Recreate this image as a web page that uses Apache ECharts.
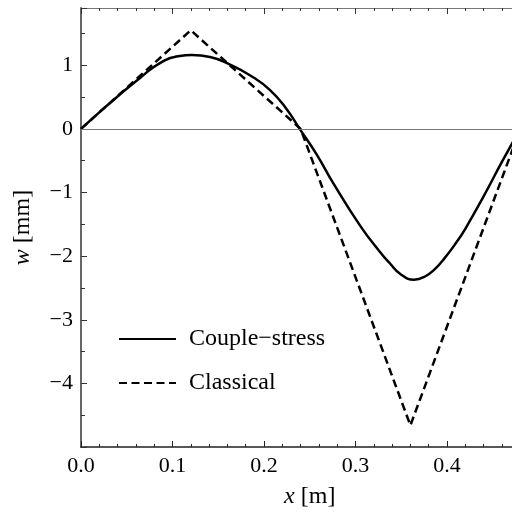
<!DOCTYPE html>
<html>
<head>
<meta charset="utf-8">
<script src="https://cdn.jsdelivr.net/npm/echarts@6/dist/echarts.min.js"></script>
<style>
  html, body { margin: 0; padding: 0; background: #fff; }
  #chart { width: 512px; height: 517px; }
</style>
</head>
<body>
<div id="chart"></div>
<script>
// deflection w(x)
var coupleX = [0, 0.02, 0.04, 0.0645, 0.0863, 0.108, 0.121, 0.141, 0.163, 0.185, 0.2066, 0.2248, 0.239,
               0.2575, 0.2755, 0.305, 0.327, 0.338, 0.349, 0.364, 0.376, 0.387, 0.398, 0.409, 0.42,
               0.44, 0.46, 0.48];
var coupleW = [0, 0.26, 0.51, 0.80, 1.035, 1.145, 1.16, 1.13, 1.01, 0.84, 0.61, 0.31, 0,
               -0.40, -0.85, -1.52, -1.94, -2.12, -2.28, -2.37, -2.32, -2.20, -2.02, -1.81, -1.57,
               -1.06, -0.52, 0];
var classicX = [0, 0.12, 0.24, 0.36, 0.48];
var classicW = [0, 1.55, 0, -4.66, 0];
var seriesNames = ['Couple\u2212stress', 'Classical'];

var chart = echarts.init(document.getElementById('chart'));
var font = 'Liberation Serif';

function pairs(xs, ys) {
    return xs.map(function (x, i) { return [x, ys[i]]; });
}

function minus(v) {
    return v < 0 ? '\u2212' + Math.abs(v) : String(v);
}

option = {
    animation: false,
    backgroundColor: '#fff',
    grid: {
        left: 81,
        top: 8,
        right: -26.5,
        bottom: 70,
        outerBoundsMode: 'none',
        containLabel: false
    },
    legend: {
        orient: 'vertical',
        left: 118,
        top: 327,
        padding: 0,
        itemWidth: 57,
        itemHeight: 2,
        itemGap: 20,
        data: seriesNames,
        textStyle: {
            fontFamily: font,
            fontSize: 24,
            color: '#000',
            lineHeight: 24,
            padding: [0, 0, 0, 8]
        }
    },
    xAxis: [
        {
            type: 'value',
            position: 'bottom',
            min: 0,
            max: 0.5,
            interval: 0.1,
            name: '{i|x} [m]',
            nameLocation: 'middle',
            nameGap: 38,
            nameTextStyle: {
                fontFamily: font,
                fontSize: 24,
                color: '#000',
                rich: { i: { fontFamily: font, fontSize: 24, fontStyle: 'italic' } }
            },
            axisLine: { onZero: false, lineStyle: { color: '#222', width: 1.5 } },
            axisTick: { inside: true, length: 6, lineStyle: { color: '#222' } },
            minorTick: { show: true, splitNumber: 5, length: 3, lineStyle: { color: '#222' } },
            axisLabel: {
                fontFamily: font,
                fontSize: 22,
                color: '#000',
                margin: 8,
                formatter: function (v) { return v.toFixed(1); }
            },
            splitLine: { show: false }
        },
        {
            type: 'value',
            position: 'top',
            min: 0,
            max: 0.5,
            interval: 0.1,
            axisLine: { onZero: false, lineStyle: { color: '#777', width: 1 } },
            axisTick: { inside: true, length: 6, lineStyle: { color: '#333' } },
            minorTick: { show: true, splitNumber: 5, length: 3, lineStyle: { color: '#333' } },
            axisLabel: { show: false },
            splitLine: { show: false }
        }
    ],
    yAxis: [
        {
            type: 'value',
            position: 'left',
            min: -5,
            max: 1.9,
            interval: 1,
            name: '{i|w} [mm]',
            nameLocation: 'middle',
            nameGap: 46,
            nameTextStyle: {
                fontFamily: font,
                fontSize: 24,
                color: '#000',
                rich: { i: { fontFamily: font, fontSize: 24, fontStyle: 'italic' } }
            },
            axisLine: { show: true, onZero: false, lineStyle: { color: '#666', width: 2 } },
            axisTick: { inside: true, length: 6, lineStyle: { color: '#333' } },
            axisLabel: {
                fontFamily: font,
                fontSize: 22,
                color: '#000',
                margin: 8,
                formatter: function (v) {
                    if (v <= -5 || v !== Math.round(v)) return '';
                    return minus(v);
                }
            },
            splitLine: { show: false }
        },
        {
            // minor ticks every 0.5
            type: 'value',
            position: 'left',
            min: -5,
            max: 1.9,
            interval: 0.5,
            axisLine: { show: false },
            axisTick: { inside: true, length: 4, lineStyle: { color: '#333' } },
            axisLabel: { show: false },
            splitLine: { show: false }
        }
    ],
    series: [
        {
            name: seriesNames[0],
            type: 'line',
            data: pairs(coupleX, coupleW),
            smooth: 0.5,
            symbol: 'none',
            lineStyle: { color: '#000', width: 2.5 },
            itemStyle: { color: '#000' },
            markLine: {
                silent: true,
                symbol: 'none',
                label: { show: false },
                lineStyle: { color: '#777', width: 1, type: 'solid' },
                data: [{ yAxis: 0 }]
            },
            z: 3
        },
        {
            name: seriesNames[1],
            type: 'line',
            data: pairs(classicX, classicW),
            symbol: 'none',
            lineStyle: { color: '#000', width: 2.5, type: [8, 4.5] },
            itemStyle: { color: '#000' },
            z: 2
        }
    ]
};

chart.setOption(option);
</script>
</body>
</html>
